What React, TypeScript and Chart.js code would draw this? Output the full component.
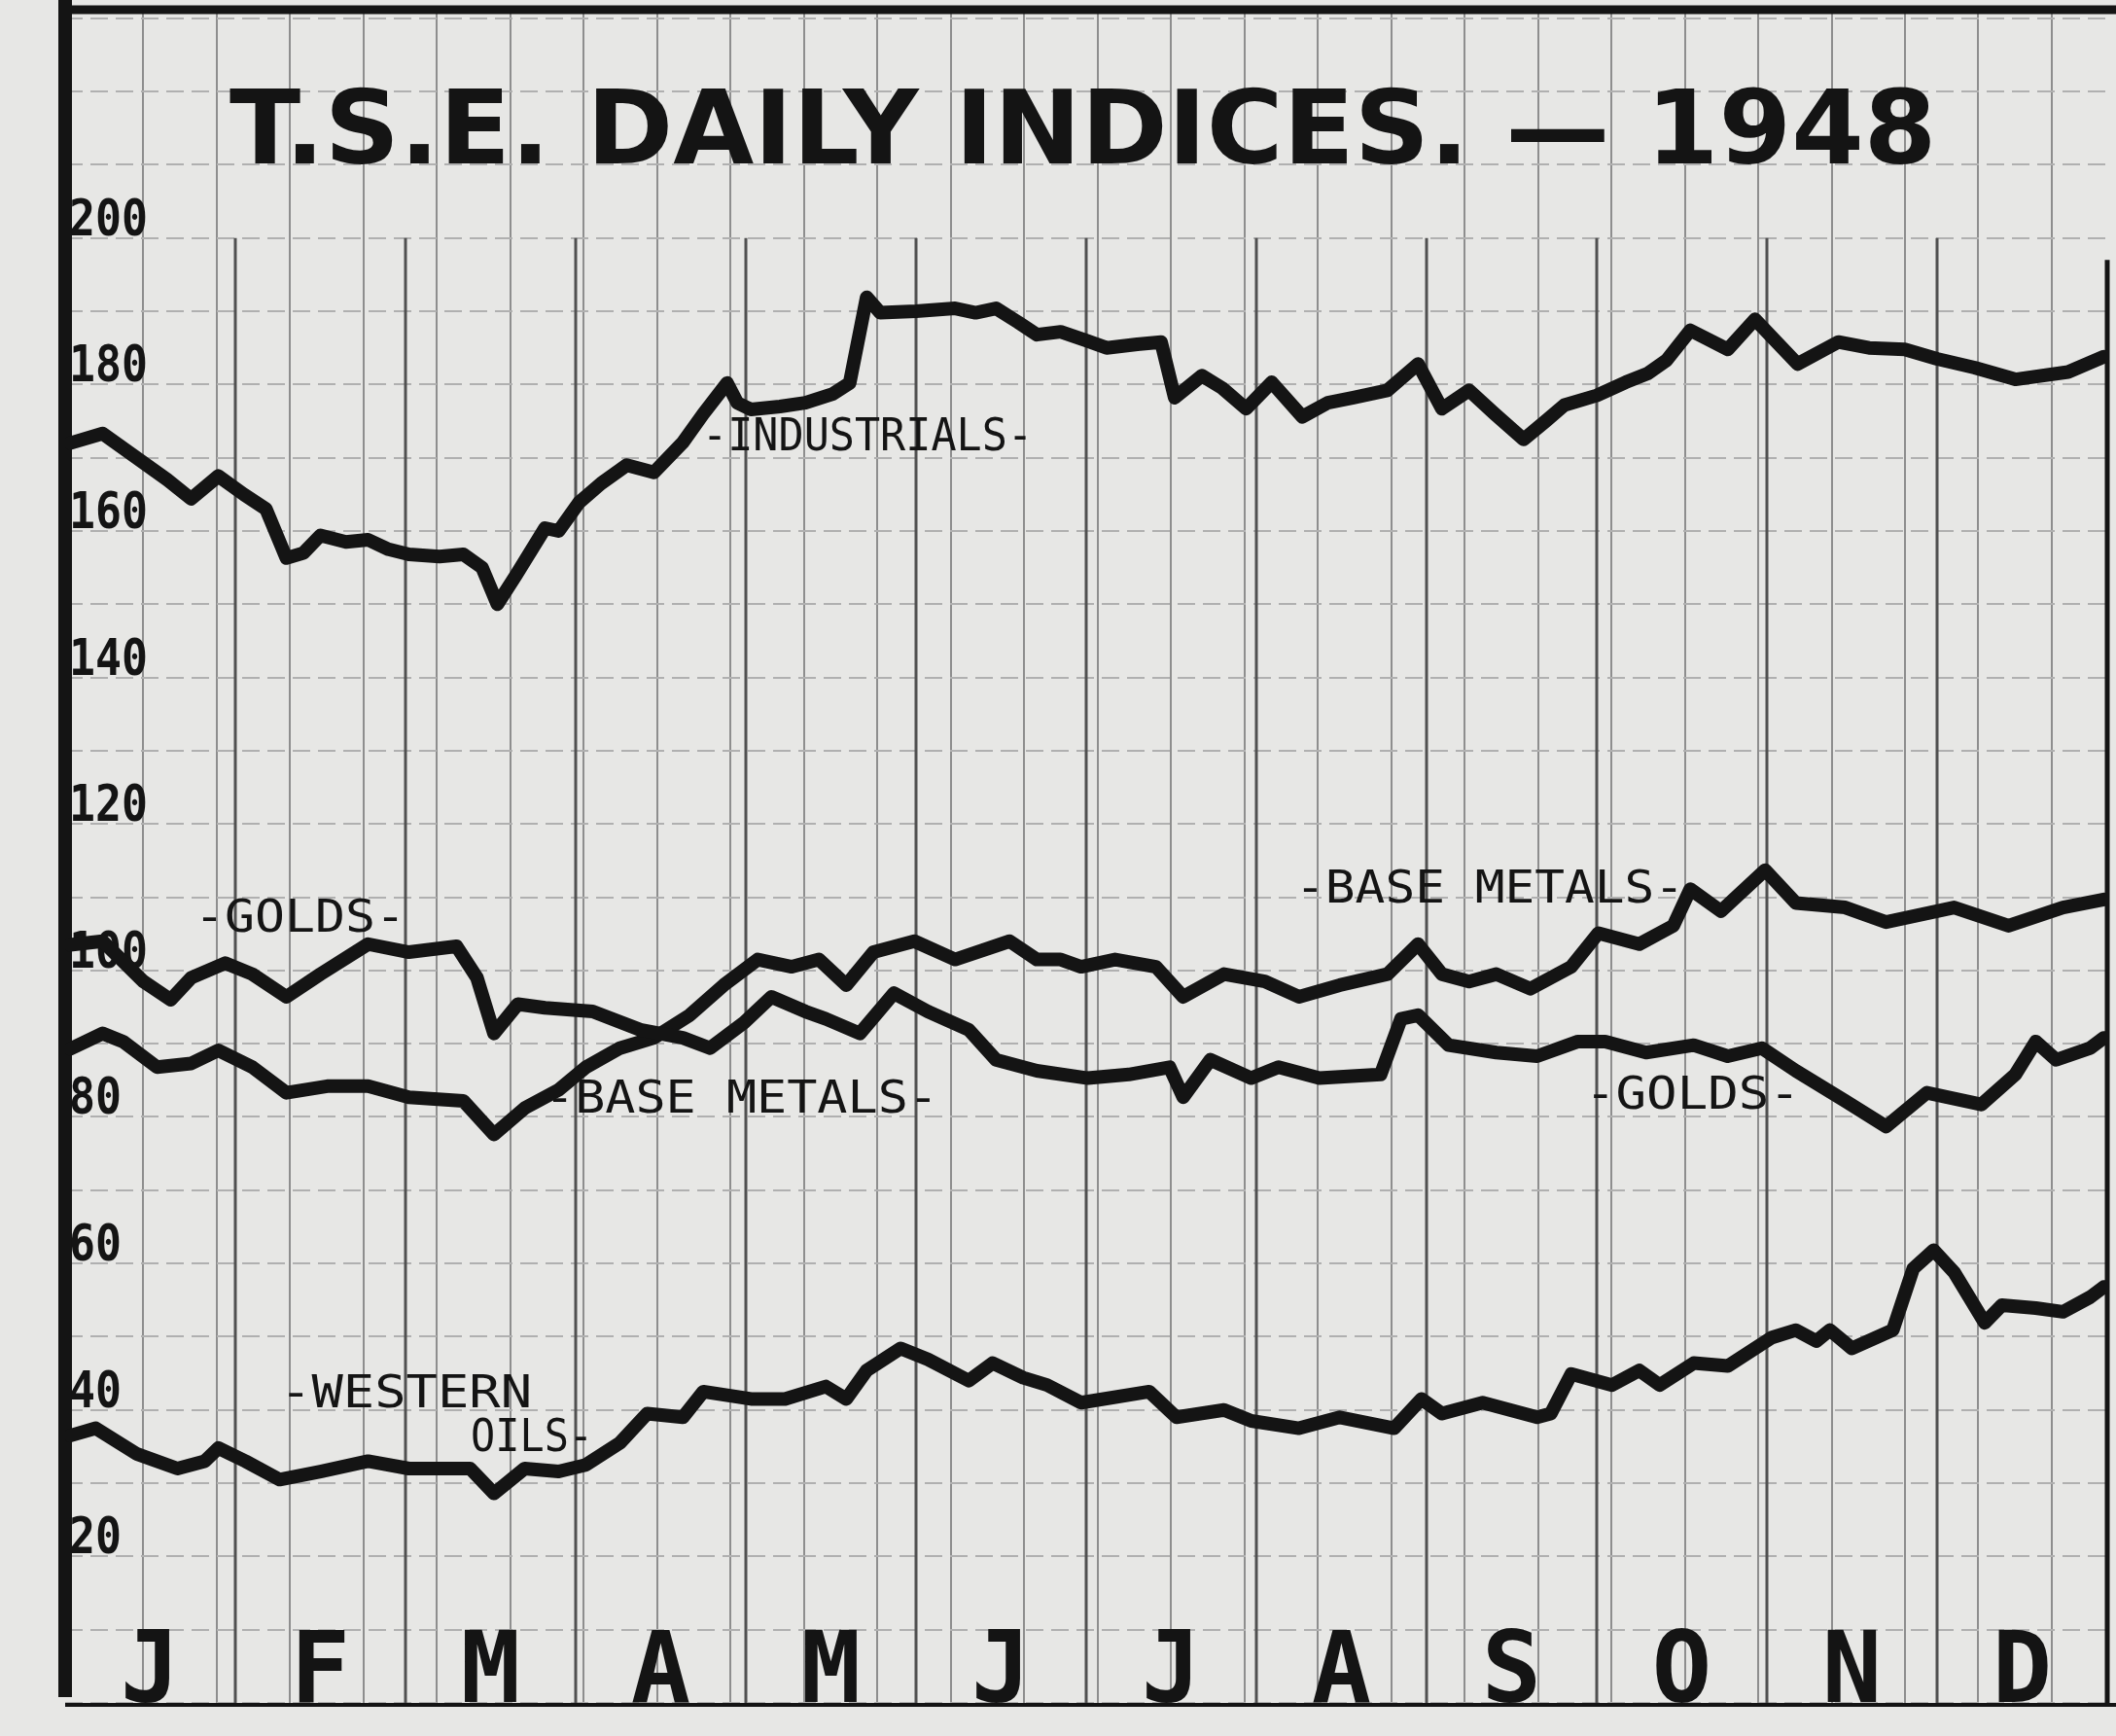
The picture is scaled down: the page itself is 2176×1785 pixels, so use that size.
import React, { useEffect, useRef } from 'react';
import { Chart, registerables } from 'chart.js';

Chart.register(...registerables);

// ---------- DATA (x = fractional month from Jan 1, y = index value) ----------
const MONTH_LETTERS = ['J', 'F', 'M', 'A', 'M', 'J', 'J', 'A', 'S', 'O', 'N', 'D'];
const Y_TICK_LABELS = [20, 40, 60, 80, 100, 120, 140, 160, 180, 200];
const TITLE = 'T.S.E. DAILY INDICES. \u2014 1948';

const INDUSTRIALS_X = [
  0.03, 0.22, 0.42, 0.6, 0.74, 0.9, 1.05, 1.18, 1.3, 1.4, 1.5, 1.65, 1.78, 1.9, 2.02, 2.2, 2.34, 2.45, 2.54, 2.65,
  2.82, 2.9, 3.02, 3.15, 3.3, 3.46, 3.63, 3.75, 3.89, 3.95, 4.03, 4.2, 4.35, 4.51, 4.61, 4.71, 4.79, 5.0, 5.23, 5.35,
  5.47, 5.6, 5.71, 5.85, 6.0, 6.12, 6.3, 6.44, 6.52, 6.68, 6.8, 6.94, 7.09, 7.27, 7.42, 7.57, 7.77, 7.95, 8.09, 8.25,
  8.4, 8.57, 8.7, 8.81, 9.0, 9.17, 9.3, 9.41, 9.55, 9.77, 9.93, 10.18, 10.42, 10.6, 10.81, 11.0, 11.22, 11.46, 11.77, 11.98,
];
const INDUSTRIALS_Y = [
  172, 173.3, 170, 167, 164.4, 167.5, 165, 163, 156.3, 157, 159.4, 158.5, 158.8, 157.5, 156.8, 156.5, 156.8, 155, 150, 154,
  160.4, 160, 163.9, 166.5, 169, 168, 172.1, 176, 180.2, 177.5, 176.6, 177, 177.5, 178.7, 180.2, 191.9, 189.8, 190, 190.4, 189.8,
  190.4, 188.5, 186.8, 187.2, 186, 185, 185.5, 185.8, 178.2, 181.2, 179.5, 176.7, 180.3, 175.6, 177.5, 178.2, 179.2, 182.8, 176.7, 179.2,
  176, 172.5, 175, 177.2, 178.5, 180.3, 181.5, 183.3, 187.4, 184.8, 188.9, 182.8, 185.8, 185, 184.8, 183.5, 182.3, 180.7, 181.7, 183.8,
];

const GOLDS_X = [
  0.03, 0.22, 0.46, 0.62, 0.74, 0.94, 1.1, 1.3, 1.5, 1.78, 2.02, 2.3, 2.42, 2.52, 2.66, 2.82, 3.1, 3.38, 3.63, 3.79,
  3.99, 4.15, 4.35, 4.47, 4.67, 4.87, 5.07, 5.31, 5.47, 5.71, 6.01, 6.25, 6.49, 6.57, 6.73, 6.97, 7.13, 7.37, 7.73, 7.85,
  7.95, 8.13, 8.41, 8.65, 8.89, 9.05, 9.29, 9.57, 9.77, 9.97, 10.17, 10.46, 10.7, 10.94, 11.26, 11.46, 11.58, 11.7, 11.9, 11.98,
];
const GOLDS_Y = [
  103.5, 104, 98.5, 96, 99, 101, 99.5, 96.4, 99.5, 103.6, 102.5, 103.3, 99, 91.4, 95.4, 94.9, 94.4, 91.9, 90.8, 89.4,
  92.9, 96.4, 94.4, 93.4, 91.4, 96.9, 94.4, 91.9, 87.8, 86.3, 85.3, 85.8, 86.8, 82.7, 87.8, 85.3, 86.8, 85.3, 85.8, 93.4,
  93.9, 89.8, 88.8, 88.3, 90.3, 90.3, 88.8, 89.8, 88.3, 89.4, 86.3, 82.2, 78.7, 83.3, 81.7, 85.8, 90.3, 87.8, 89.4, 90.8,
];

const BASE_METALS_X = [
  0.03, 0.22, 0.34, 0.54, 0.74, 0.9, 1.1, 1.3, 1.54, 1.78, 2.02, 2.34, 2.52, 2.7, 2.9, 3.06, 3.26, 3.46, 3.67, 3.87,
  4.07, 4.27, 4.43, 4.59, 4.75, 4.99, 5.23, 5.55, 5.71, 5.85, 5.97, 6.17, 6.41, 6.57, 6.81, 7.05, 7.25, 7.49, 7.77, 7.95,
  8.09, 8.25, 8.41, 8.61, 8.85, 9.01, 9.25, 9.45, 9.55, 9.73, 9.99, 10.17, 10.46, 10.7, 11.1, 11.42, 11.74, 11.98,
];
const BASE_METALS_Y = [
  89.3, 91.4, 90.3, 86.8, 87.3, 89.1, 86.8, 83.3, 84.2, 84.2, 82.7, 82.2, 77.6, 81.2, 83.7, 86.8, 89.4, 90.8, 93.9, 98,
  101.5, 100.5, 101.5, 98, 102.5, 104, 101.5, 104, 101.5, 101.5, 100.5, 101.5, 100.5, 96.4, 99.5, 98.5, 96.4, 98, 99.5, 103.6,
  99.5, 98.5, 99.5, 97.5, 100.5, 105.1, 103.6, 106.1, 111.1, 108.1, 113.7, 109.2, 108.6, 106.6, 108.6, 106.1, 108.6, 109.7,
];

const WESTERN_OILS_X = [
  0.03, 0.18, 0.42, 0.66, 0.82, 0.9, 1.06, 1.26, 1.5, 1.78, 2.02, 2.38, 2.52, 2.7, 2.9, 3.06, 3.26, 3.42, 3.63, 3.75,
  4.03, 4.23, 4.47, 4.59, 4.71, 4.91, 5.07, 5.31, 5.45, 5.63, 5.77, 5.97, 6.37, 6.53, 6.81, 6.97, 7.25, 7.49, 7.81, 7.97,
  8.09, 8.33, 8.65, 8.73, 8.85, 9.09, 9.25, 9.37, 9.57, 9.77, 10.03, 10.17, 10.29, 10.37, 10.5, 10.74, 10.86, 10.98, 11.1, 11.28,
  11.38, 11.58, 11.74, 11.9, 11.98,
];
const WESTERN_OILS_Y = [
  36.5, 37.5, 34, 32, 33, 34.8, 33, 30.5, 31.6, 33, 32, 32, 28.6, 32, 31.6, 32.5, 35.5, 39.5, 39, 42.5,
  41.5, 41.5, 43.2, 41.5, 45.4, 48.4, 46.9, 44, 46.4, 44.4, 43.4, 41, 42.5, 39, 40, 38.5, 37.5, 39, 37.5, 41.5,
  39.5, 41, 39, 39.5, 44.9, 43.4, 45.4, 43.4, 46.4, 46, 49.9, 50.9, 49.4, 50.9, 48.4, 50.9, 59.3, 61.8, 58.8, 51.9,
  54.3, 53.9, 53.4, 55.4, 56.8,
];

// Series name labels written on the chart (left edge month, centre value, width in months)
const SERIES_LABELS = [
  { text: '-INDUSTRIALS-', x: 3.743, y: 172.6, w: 1.943 },
  { text: '-GOLDS-', x: 0.76, y: 106.9, w: 1.24 },
  { text: '-BASE METALS-', x: 2.817, y: 82.2, w: 2.314 },
  { text: '-BASE METALS-', x: 7.229, y: 110.9, w: 2.286 },
  { text: '-GOLDS-', x: 8.931, y: 82.7, w: 1.263 },
  { text: '-WESTERN', x: 1.263, y: 42.0, w: 1.48 },
  { text: 'OILS-', x: 2.383, y: 36.0, w: 0.72 },
];

// background "graph paper" columns (in paper squares)
const PAPER_COLUMNS = Array.from({ length: 27 }, (_, i) => i + 1);

const INK = '#141414';

function pairs(xs: number[], ys: number[]) {
  return xs.map((x, i) => ({ x, y: ys[i] }));
}

function fitText(ctx: CanvasRenderingContext2D, text: string, left: number, baseline: number, width: number) {
  const natural = ctx.measureText(text).width;
  ctx.save();
  ctx.translate(left, baseline);
  ctx.scale(width / natural, 1);
  ctx.textAlign = 'left';
  ctx.fillText(text, 0, 0);
  ctx.restore();
}

const paperPlugin = {
  id: 'paperPlugin',
  beforeDraw(chart: any) {
    const { ctx, width, height } = chart;
    ctx.save();
    ctx.fillStyle = '#e7e7e5';
    ctx.fillRect(0, 0, width, height);
    ctx.restore();
  },
  beforeDatasetsDraw(chart: any) {
    const { ctx, chartArea, scales } = chart;
    const x = scales.x;
    const y = scales.y;
    ctx.save();
    ctx.lineCap = 'butt';

    // month divisions (from the 200 line down)
    ctx.strokeStyle = '#505050';
    ctx.lineWidth = 3;
    for (let m = 1; m <= 11; m++) {
      const px = x.getPixelForValue(m);
      ctx.beginPath();
      ctx.moveTo(px, y.getPixelForValue(200));
      ctx.lineTo(px, y.getPixelForValue(0));
      ctx.stroke();
    }

    // frame
    ctx.strokeStyle = INK;
    ctx.lineWidth = 5;
    ctx.beginPath();
    ctx.moveTo(x.getPixelForValue(12), y.getPixelForValue(197));
    ctx.lineTo(x.getPixelForValue(12), y.getPixelForValue(0));
    ctx.stroke();
    ctx.lineWidth = 4;
    ctx.beginPath();
    ctx.moveTo(chartArea.left, y.getPixelForValue(0) + 2);
    ctx.lineTo(chart.width, y.getPixelForValue(0) + 2);
    ctx.stroke();
    ctx.lineWidth = 9;
    ctx.beginPath();
    ctx.moveTo(chartArea.left - 7, chartArea.top + 1);
    ctx.lineTo(chart.width, chartArea.top + 1);
    ctx.stroke();
    ctx.lineWidth = 14;
    ctx.beginPath();
    ctx.moveTo(chartArea.left, 0);
    ctx.lineTo(chartArea.left, y.getPixelForValue(0) - 6);
    ctx.stroke();

    ctx.fillStyle = INK;

    // title
    ctx.font = 'bold 105px "DejaVu Sans"';
    fitText(ctx, TITLE, x.getPixelForValue(0.966), y.getPixelForValue(210.2), x.getPixelForValue(10.997) - x.getPixelForValue(0.966));

    // y tick labels
    ctx.font = 'bold 52px "DejaVu Sans Mono"';
    ctx.textBaseline = 'alphabetic';
    for (const v of Y_TICK_LABELS) {
      const s = String(v);
      fitText(ctx, s, chartArea.left + 4, y.getPixelForValue(v) - 3, s.length * 27);
    }

    // month letters
    ctx.font = 'bold 102px "DejaVu Sans Mono"';
    ctx.textAlign = 'center';
    MONTH_LETTERS.forEach((l, i) => {
      ctx.fillText(l, x.getPixelForValue(i + 0.5), y.getPixelForValue(0) - 1);
    });

    // series labels
    ctx.font = '46px "DejaVu Sans Mono"';
    ctx.textBaseline = 'middle';
    for (const L of SERIES_LABELS) {
      const left = x.getPixelForValue(L.x);
      fitText(ctx, L.text, left, y.getPixelForValue(L.y), x.getPixelForValue(L.x + L.w) - left);
    }
    ctx.restore();
  },
};

export default function App() {
  const ref = useRef<HTMLCanvasElement | null>(null);

  useEffect(() => {
    if (!ref.current) return;
    const lineStyle = {
      borderColor: INK,
      borderWidth: 14,
      pointRadius: 0,
      tension: 0,
      fill: false,
      borderJoinStyle: 'round' as const,
      borderCapStyle: 'round' as const,
    };
    const chart = new Chart(ref.current, {
      type: 'line',
      data: {
        datasets: [
          { label: 'Industrials', data: pairs(INDUSTRIALS_X, INDUSTRIALS_Y), ...lineStyle },
          { label: 'Golds', data: pairs(GOLDS_X, GOLDS_Y), ...lineStyle },
          { label: 'Base Metals', data: pairs(BASE_METALS_X, BASE_METALS_Y), ...lineStyle },
          { label: 'Western Oils', data: pairs(WESTERN_OILS_X, WESTERN_OILS_Y), ...lineStyle },
        ],
      },
      options: {
        responsive: false,
        maintainAspectRatio: false,
        devicePixelRatio: 1,
        animation: false,
        events: [],
        layout: { padding: { left: 67, right: 9, top: 9, bottom: 34 } },
        plugins: { legend: { display: false }, tooltip: { enabled: false }, title: { display: false } },
        scales: {
          x: {
            type: 'linear',
            min: 0,
            max: 12,
            display: false,
          },
          xPaper: {
            type: 'linear',
            position: 'bottom',
            min: -0.06,
            max: 27.755,
            ticks: { display: false },
            grid: { color: '#8e8e8e', lineWidth: 2, drawTicks: false },
            border: { display: false },
            afterBuildTicks: (axis: any) => {
              axis.ticks = PAPER_COLUMNS.map((v) => ({ value: v }));
            },
          },
          y: {
            type: 'linear',
            min: 0,
            max: 231.3,
            ticks: { display: false, stepSize: 10, includeBounds: false },
            grid: { color: '#b0b0b0', lineWidth: 2, drawTicks: false },
            border: { display: false, dash: [18, 8] },
          },
        },
      },
      plugins: [paperPlugin],
    } as any);
    return () => chart.destroy();
  }, []);

  return (
    <div style={{ position: 'absolute', left: 0, top: 0, width: 2176, height: 1785, background: '#e7e7e5' }}>
      <canvas ref={ref} width={2176} height={1785} style={{ display: 'block', width: 2176, height: 1785 }} />
    </div>
  );
}
